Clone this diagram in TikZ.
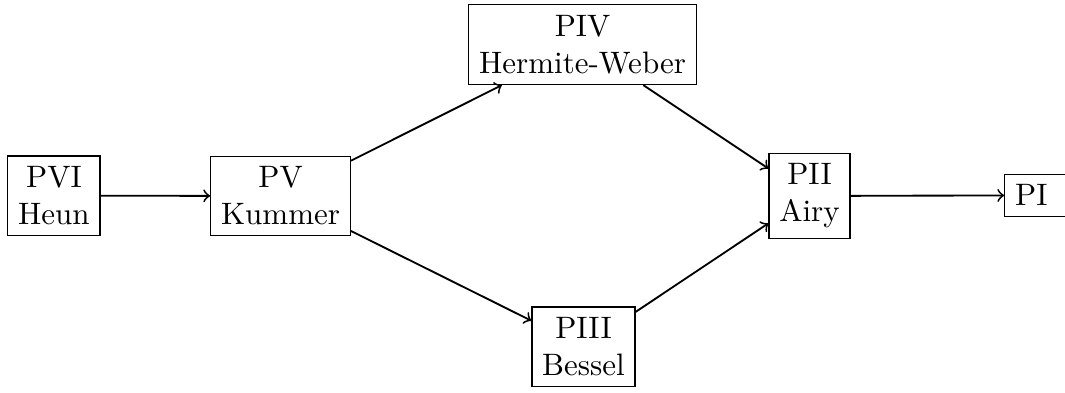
\documentclass[tikz,border=0pt]{standalone}
\begin{document}
\begin{tikzpicture}[x=1pt,y=1pt,
  box/.style={draw,align=center},
  arr/.style={->,semithick}]
\useasboundingbox (0,0) rectangle (343.5,-126.5);
\node[box] (p6) at (17.4,-63.1) {PVI\\Heun};
\node[box] (p5) at (90.5,-63.2) {PV\\Kummer};
\node[box] (p4) at (187.9,-14.4) {PIV\\Hermite-Weber};
\node[box] (p3) at (188.2,-111.8) {PIII\\Bessel};
\node[box] (p2) at (261.1,-63.2) {PII\\Airy};
\node[draw,anchor=west,text width=16pt,align=left] (p1) at (323.9,-63.0) {PI};
\draw[arr] (p6) -- (p5);
\draw[arr] (p5) -- (p4);
\draw[arr] (p5) -- (p3);
\draw[arr] (p4) -- (p2);
\draw[arr] (p3) -- (p2);
\draw[arr] (p2) -- (p1);
\end{tikzpicture}
\end{document}
